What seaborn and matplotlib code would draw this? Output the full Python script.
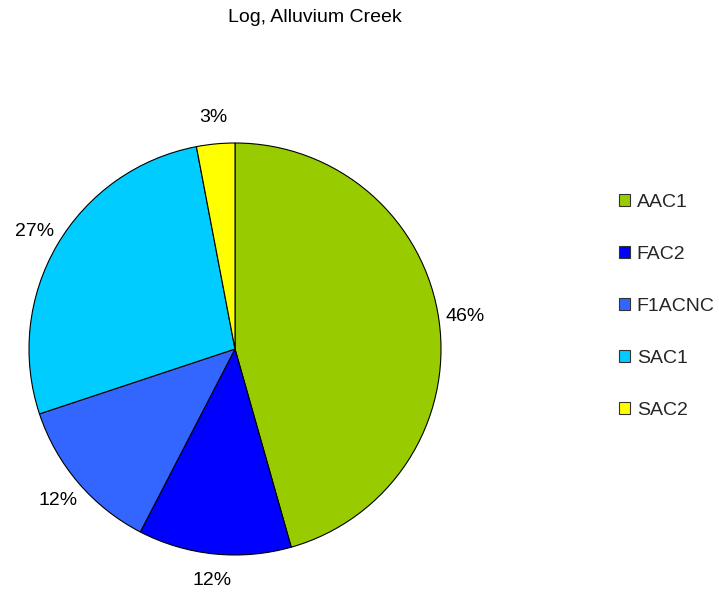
import matplotlib
matplotlib.use("Agg")
import matplotlib.pyplot as plt
import seaborn as sns
from matplotlib.patches import Patch

categories = ["AAC1", "FAC2", "F1ACNC", "SAC1", "SAC2"]
values = [45.6, 12.0, 12.3, 27.1, 3.0]
colors = ["#99CC00", "#0000FF", "#3366FF", "#00CCFF", "#FFFF00"]
title = "Log, Alluvium Creek"

sns.set_theme(style="white")
plt.rcParams['font.family'] = ['Liberation Sans', 'DejaVu Sans']
palette = sns.color_palette(colors)

fig = plt.figure(figsize=(7.19, 5.92), dpi=100)
ax = fig.add_axes([29/719, 37/592, 412/719, 412/592])
wedges, texts, autotexts = ax.pie(
    values, colors=palette, startangle=90, counterclock=False,
    autopct=lambda p: f"{p:.0f}%", pctdistance=1.13,
    wedgeprops=dict(edgecolor="black", linewidth=0.8),
    textprops=dict(fontsize=14, color="#000000"))
ax.set_xlim(-1, 1)
ax.set_ylim(-1, 1)
ax.set_aspect("equal")
ax.axis("off")

fig.text(315/719, 1 - 17/592, title, ha="center", va="center", fontsize=14, color="#000000")

handles = [Patch(facecolor=c, edgecolor="#333333", linewidth=0.8) for c in palette]
fig.legend(handles, categories, loc="upper left", bbox_to_anchor=(619/719, 1 - 194/592),
           frameon=False, fontsize=14, handlelength=0.55, handleheight=0.55,
           handletextpad=0.36, labelspacing=1.8, borderpad=0, borderaxespad=0)

fig.savefig("out.png", dpi=100)
